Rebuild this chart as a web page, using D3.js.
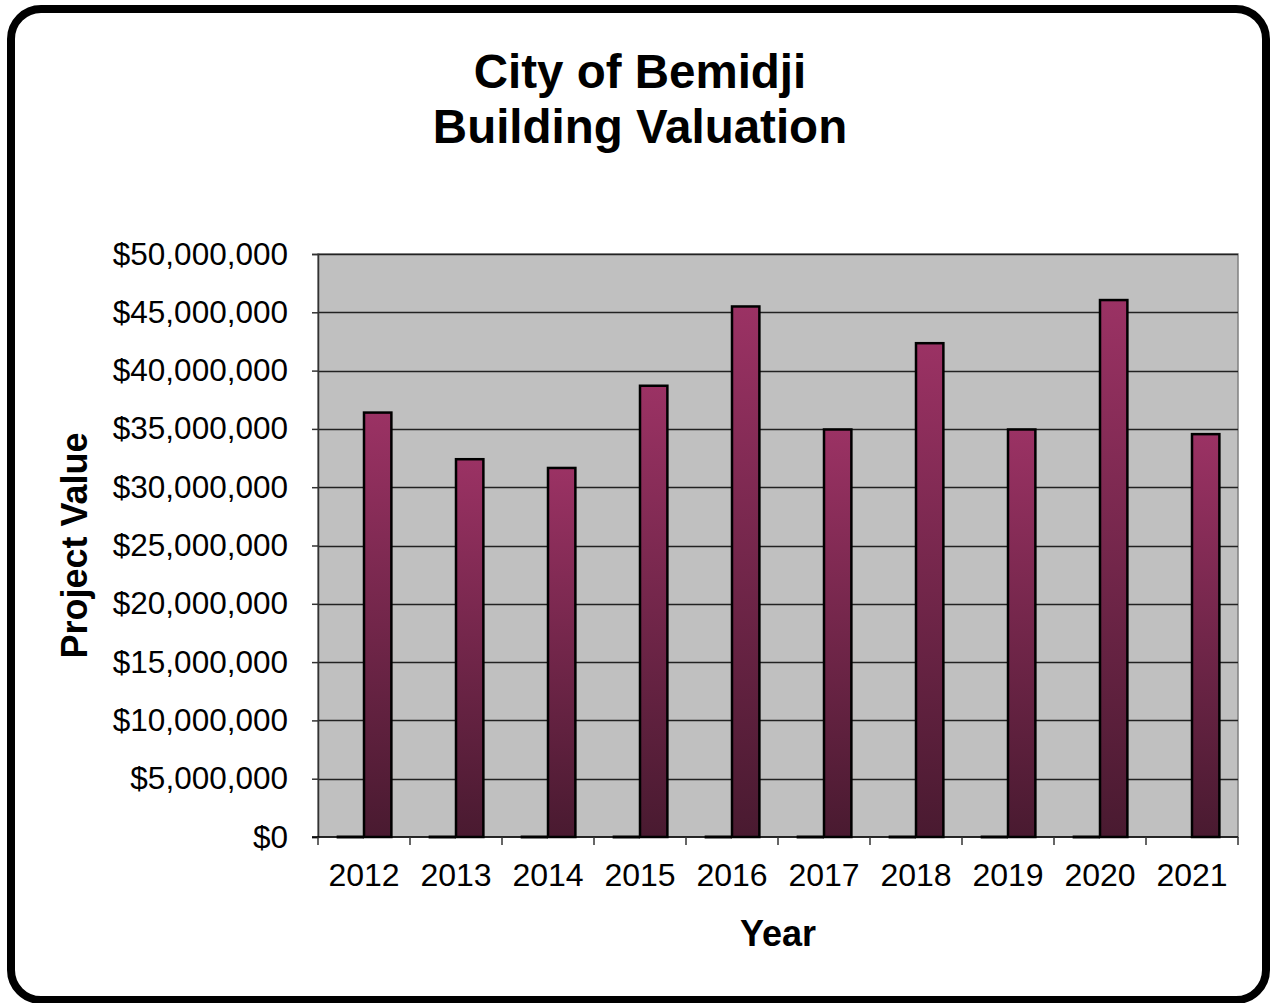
<!DOCTYPE html>
<html>
<head>
<meta charset="utf-8">
<script src="https://cdn.jsdelivr.net/npm/d3@7"></script>
<style>
  body { margin: 0; background: #fff; }
  svg { display: block; font-family: "Liberation Sans", Arial, sans-serif; }
</style>
</head>
<body>
<div id="chart"></div>
<script>
// data
const years = ['2012', '2013', '2014', '2015', '2016', '2017', '2018', '2019', '2020', '2021'];
const emptySeries = [0, 0, 0, 0, 0, 0, 0, 0, 0, null]; // flat bars drawn at the baseline
const valuation = [36400000, 32400000, 31650000, 38700000, 45500000, 34950000, 42350000, 34950000, 46050000, 34550000];
const yTicks = [0, 5000000, 10000000, 15000000, 20000000, 25000000, 30000000, 35000000, 40000000, 45000000, 50000000];
const titleLines = ['City of Bemidji', 'Building Valuation'];

const W = 1272, H = 1003;
const plot = { left: 318, right: 1238, top: 254, bottom: 837 };

const svg = d3.select("#chart").append("svg")
    .attr("width", W)
    .attr("height", H);

// bar gradient
const grad = svg.append("defs").append("linearGradient")
    .attr("id", "barGrad")
    .attr("x1", 0).attr("y1", 0).attr("x2", 0).attr("y2", 1);
grad.append("stop").attr("offset", "0%").attr("stop-color", "#9b3264");
grad.append("stop").attr("offset", "100%").attr("stop-color", "#491a30");

// outer rounded frame
svg.append("rect")
    .attr("x", 11).attr("y", 9)
    .attr("width", 1255).attr("height", 991)
    .attr("rx", 30).attr("ry", 30)
    .attr("fill", "#fff")
    .attr("stroke", "#000")
    .attr("stroke-width", 8);

// title
svg.append("text")
    .attr("x", 640)
    .attr("y", 88)
    .attr("text-anchor", "middle")
    .style("font-size", "47.5px")
    .style("font-weight", "bold")
    .selectAll("tspan")
    .data(titleLines)
    .join("tspan")
    .attr("x", 640)
    .attr("dy", (d, i) => i === 0 ? 0 : 55)
    .text(d => d);

const x0 = d3.scaleBand()
    .domain(years)
    .range([plot.left, plot.right])
    .padding(0);

const x1 = d3.scaleBand()
    .domain(['empty', 'value'])
    .range([0, x0.bandwidth()])
    .paddingInner(0)
    .paddingOuter(0.68);

const y = d3.scaleLinear()
    .domain([0, 50000000])
    .range([plot.bottom, plot.top]);

// plot background
svg.append("rect")
    .attr("x", plot.left).attr("y", plot.top)
    .attr("width", plot.right - plot.left)
    .attr("height", plot.bottom - plot.top)
    .attr("fill", "#c0c0c0")
    .attr("stroke", "#808080")
    .attr("stroke-width", 1.5);

// gridlines
svg.append("g")
    .selectAll("line")
    .data(yTicks.filter(d => d > 0))
    .join("line")
    .attr("x1", plot.left).attr("x2", plot.right)
    .attr("y1", d => Math.round(y(d)) + 0.5)
    .attr("y2", d => Math.round(y(d)) + 0.5)
    .attr("stroke", "#222")
    .attr("stroke-width", 1.5);

// y axis
const yAxis = svg.append("g")
    .attr("transform", `translate(${plot.left},0)`)
    .call(d3.axisLeft(y).tickValues(yTicks).tickSize(6).tickPadding(24).tickFormat(d3.format("$,.0f")));
yAxis.select(".domain").attr("stroke", "#333").attr("stroke-width", 1.5);
yAxis.selectAll(".tick line").attr("stroke", "#333").attr("stroke-width", 1.5);
yAxis.selectAll(".tick text")
    .attr("fill", "#000")
    .style("font-size", "31.5px")
    .style("font-family", "'Liberation Sans', Arial, sans-serif");

// bars
const groups = svg.append("g")
    .selectAll("g")
    .data(years)
    .join("g")
    .attr("transform", d => `translate(${x0(d)},0)`);

// the empty series has zero height, so it shows only as its outline on the baseline
groups.filter(d => emptySeries[years.indexOf(d)] !== null)
    .append("line")
    .attr("x1", x1('empty'))
    .attr("x2", x1('empty') + x1.bandwidth())
    .attr("y1", d => y(emptySeries[years.indexOf(d)]))
    .attr("y2", d => y(emptySeries[years.indexOf(d)]))
    .attr("stroke", "#000")
    .attr("stroke-width", 3);

groups.append("rect")
    .attr("x", x1('value'))
    .attr("width", x1.bandwidth())
    .attr("y", d => y(valuation[years.indexOf(d)]))
    .attr("height", d => y(0) - y(valuation[years.indexOf(d)]))
    .attr("fill", "url(#barGrad)")
    .attr("stroke", "#000")
    .attr("stroke-width", 2.5);

// x axis
const xAxis = svg.append("g")
    .attr("transform", `translate(0,${plot.bottom})`);
xAxis.append("line")
    .attr("x1", plot.left - 6).attr("x2", plot.right)
    .attr("stroke", "#000").attr("stroke-width", 1.5);
xAxis.selectAll(".cat-tick")
    .data(years.map(d => x0(d)).concat([plot.right]))
    .join("line")
    .attr("class", "cat-tick")
    .attr("x1", d => d).attr("x2", d => d)
    .attr("y1", 0).attr("y2", 8)
    .attr("stroke", "#333").attr("stroke-width", 1.5);
xAxis.selectAll(".cat-label")
    .data(years)
    .join("text")
    .attr("class", "cat-label")
    .attr("x", d => x0(d) + x0.bandwidth() / 2)
    .attr("y", 49)
    .attr("text-anchor", "middle")
    .style("font-size", "32px")
    .text(d => d);

// axis titles
svg.append("text")
    .attr("x", (plot.left + plot.right) / 2)
    .attr("y", 946)
    .attr("text-anchor", "middle")
    .style("font-size", "36px")
    .style("font-weight", "bold")
    .text("Year");

svg.append("text")
    .attr("transform", `translate(87,${(plot.top + plot.bottom) / 2}) rotate(-90)`)
    .attr("text-anchor", "middle")
    .style("font-size", "36px")
    .style("font-weight", "bold")
    .text("Project Value");
</script>
</body>
</html>
